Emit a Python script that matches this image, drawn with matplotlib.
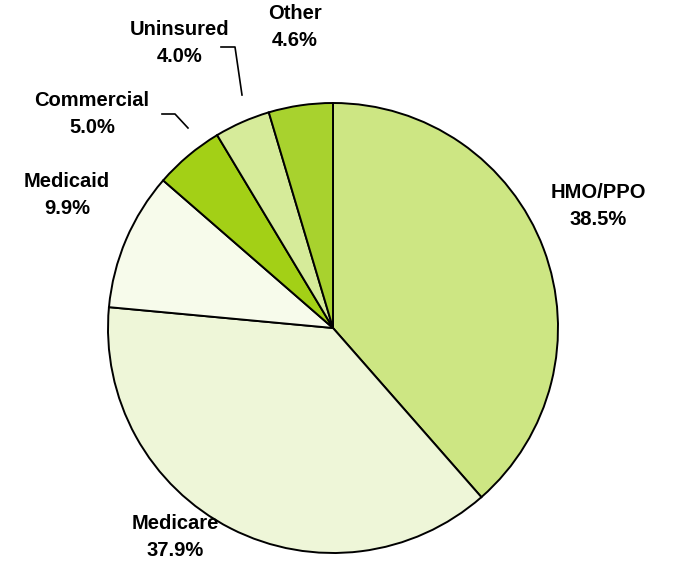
import matplotlib.pyplot as plt

# payer mix shares (%), clockwise from 12 o'clock
labels = ["HMO/PPO", "Medicare", "Medicaid", "Commercial", "Uninsured", "Other"]
shares = [38.5, 37.9, 9.9, 5.0, 4.0, 4.6]
colors = ["#CDE683", "#EEF6D8", "#F7FBEB", "#A3D016", "#D6EB9A", "#A8D22E"]

# label anchor points in pixel space (y measured from top)
label_pos = [(598, 206), (175, 537), (67, 195), (92, 114), (180, 43), (295, 27)]

W, H = 677, 564
cx, cy, r = 333, 328, 225

fig = plt.figure(figsize=(W / 100, H / 100), dpi=100)
ax = fig.add_axes([0, 0, 1, 1])

ax.pie(shares, colors=colors, startangle=90, counterclock=False,
       center=(cx, H - cy), radius=r,
       wedgeprops=dict(edgecolor="black", linewidth=1.4))

for name, val, (x, y) in zip(labels, shares, label_pos):
    ax.text(x, H - y, f"{name}\n{val:.1f}%", ha="center", va="center",
            fontsize=14.5, fontweight="bold", family="Liberation Sans",
            linespacing=1.5)

# leader lines for the two small slices
ax.plot([162, 175, 188], [H - 114, H - 114, H - 128], color="black", lw=1.2)
ax.plot([221, 235, 242], [H - 47, H - 47, H - 95], color="black", lw=1.2)

ax.set_xlim(0, W)
ax.set_ylim(0, H)
ax.set_aspect("equal")
ax.axis("off")

fig.savefig("out.png", dpi=100)
